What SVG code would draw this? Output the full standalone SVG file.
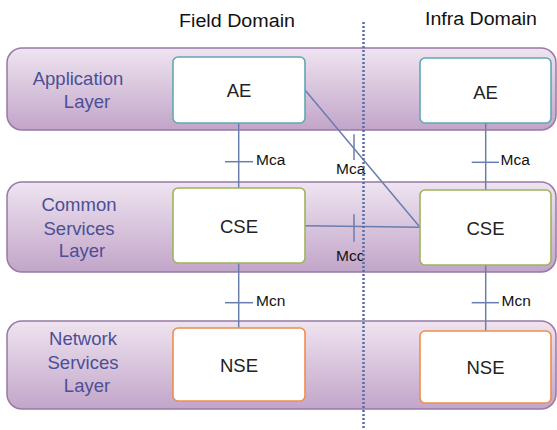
<svg xmlns="http://www.w3.org/2000/svg" width="557" height="430" viewBox="0 0 557 430">
<defs>
<linearGradient id="bandGrad" x1="0" y1="0" x2="0" y2="1">
<stop offset="0" stop-color="#efe4f0"/>
<stop offset="1" stop-color="#c2a5c9"/>
</linearGradient>
<style>
.band{fill:url(#bandGrad);stroke:#977aa6;stroke-width:1.5}
.node{fill:#ffffff;stroke-width:1.6}
.ae{stroke:#62a7b3}
.cse{stroke:#9db45c}
.nse{stroke:#ef8d4c}
.nlabel{font-family:"Liberation Sans",Arial,sans-serif;font-size:18.5px;fill:#222;text-anchor:middle}
.llabel{font-family:"Liberation Sans",Arial,sans-serif;font-size:18.5px;fill:#4b4f96;text-anchor:middle}
.hdr{font-family:"Liberation Sans",Arial,sans-serif;font-size:18px;fill:#111;text-anchor:middle}
.conn{stroke:#6a7db0;stroke-width:1.5;fill:none}
.clabel{font-family:"Liberation Sans",Arial,sans-serif;font-size:15.5px;fill:#111}
.divider{stroke:#5a6ea6;stroke-width:2.5;stroke-dasharray:2 2;fill:none}
</style>
</defs>

<g id="headers">
<text class="hdr" x="237" y="27" textLength="116" lengthAdjust="spacingAndGlyphs">Field Domain</text>
<text class="hdr" x="481" y="25" textLength="112" lengthAdjust="spacingAndGlyphs">Infra Domain</text>
</g>

<g id="application-layer">
<rect class="band" x="7" y="48" width="549" height="82" rx="15"/>
<text class="llabel" x="78" y="85">Application</text>
<text class="llabel" x="87" y="108">Layer</text>
</g>
<g id="common-services-layer">
<rect class="band" x="7" y="182" width="549" height="90" rx="15"/>
<text class="llabel" x="79" y="211">Common</text>
<text class="llabel" x="79" y="235">Services</text>
<text class="llabel" x="82" y="257">Layer</text>
</g>
<g id="network-services-layer">
<rect class="band" x="7" y="321" width="549" height="88" rx="15"/>
<text class="llabel" x="83" y="345">Network</text>
<text class="llabel" x="83" y="369">Services</text>
<text class="llabel" x="87" y="392">Layer</text>
</g>

<g id="connectors">
<line class="conn" x1="238.7" y1="123" x2="238.7" y2="188"/>
<line class="conn" x1="225" y1="161.7" x2="253" y2="161.7"/>
<text class="clabel" x="256" y="165">Mca</text>

<line class="conn" x1="485.7" y1="123" x2="485.7" y2="190"/>
<line class="conn" x1="471.7" y1="162.3" x2="499" y2="162.3"/>
<text class="clabel" x="500.5" y="165">Mca</text>

<line class="conn" x1="238.7" y1="263" x2="238.7" y2="328"/>
<line class="conn" x1="225" y1="302.7" x2="253" y2="302.7"/>
<text class="clabel" x="256" y="306">Mcn</text>

<line class="conn" x1="485.7" y1="265" x2="485.7" y2="331"/>
<line class="conn" x1="471.7" y1="302.7" x2="499" y2="302.7"/>
<text class="clabel" x="501.5" y="306">Mcn</text>

<line class="conn" x1="305" y1="90" x2="420" y2="227.3"/>
<line class="conn" x1="354" y1="134.3" x2="354" y2="160"/>
<text class="clabel" x="336" y="174.3">Mca</text>

<line class="conn" x1="305" y1="225.7" x2="420" y2="227.3"/>
<line class="conn" x1="354" y1="214.3" x2="354" y2="241.7"/>
<text class="clabel" x="336" y="261">Mcc</text>
</g>

<g id="ae-field">
<rect class="node ae" x="173" y="57" width="132" height="66" rx="5"/>
<text class="nlabel" x="239" y="97">AE</text>
</g>
<g id="ae-infra">
<rect class="node ae" x="420" y="58" width="131" height="65" rx="5"/>
<text class="nlabel" x="485.5" y="99">AE</text>
</g>
<g id="cse-field">
<rect class="node cse" x="173" y="188" width="132" height="75" rx="5"/>
<text class="nlabel" x="239" y="233">CSE</text>
</g>
<g id="cse-infra">
<rect class="node cse" x="420" y="190" width="131" height="75" rx="5"/>
<text class="nlabel" x="485.5" y="235">CSE</text>
</g>
<g id="nse-field">
<rect class="node nse" x="173" y="328" width="132" height="73" rx="5"/>
<text class="nlabel" x="239" y="372">NSE</text>
</g>
<g id="nse-infra">
<rect class="node nse" x="420" y="331" width="131" height="72" rx="5"/>
<text class="nlabel" x="485.5" y="374">NSE</text>
</g>

<g id="domain-divider">
<line class="divider" x1="363.5" y1="22" x2="363.5" y2="430"/>
</g>
</svg>
